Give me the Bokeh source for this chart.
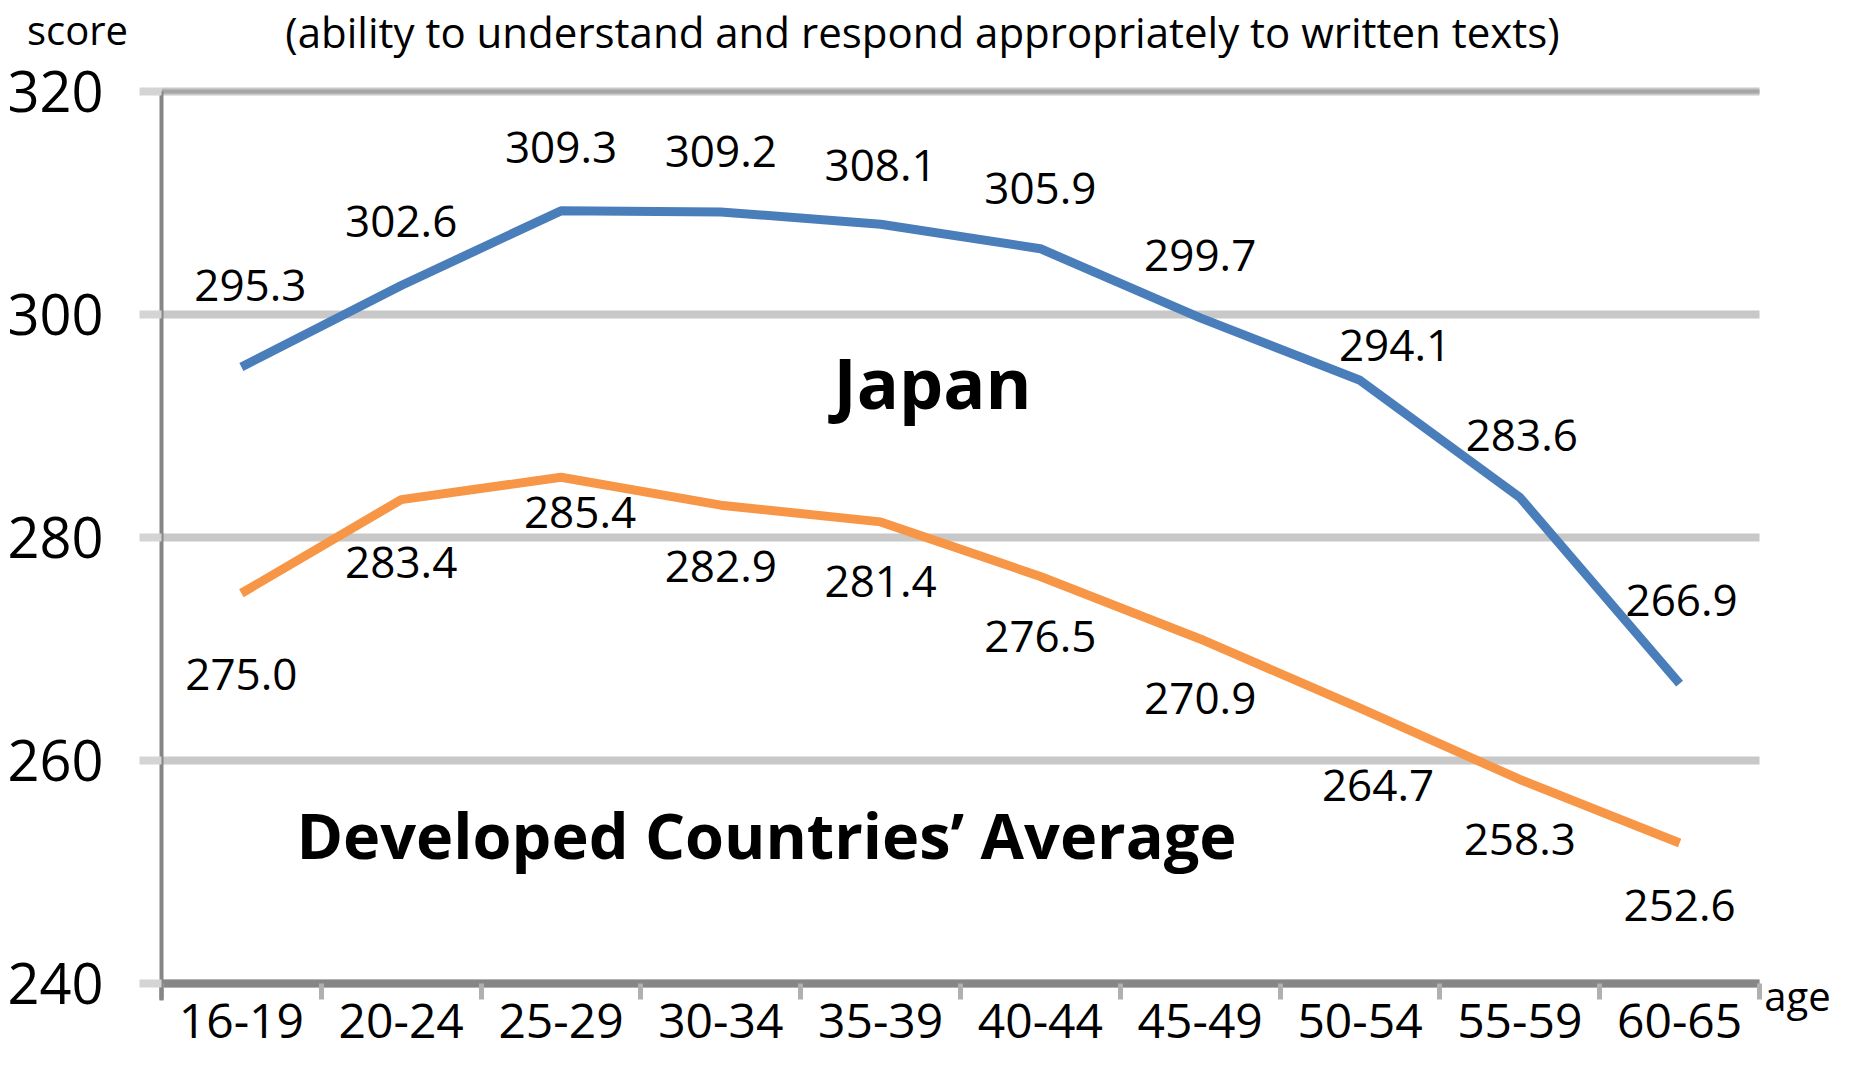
from bokeh.plotting import figure
from bokeh.models import (Range1d, LinearAxis, FixedTicker, CustomJSTickFormatter,
                          ColumnDataSource, Label, Grid)
from bokeh.core.properties import value
from bokeh.embed import file_html
from bokeh.resources import INLINE

# ---- data ----
ages = ["16-19", "20-24", "25-29", "30-34", "35-39", "40-44", "45-49", "50-54", "55-59", "60-65"]
japan = [295.3, 302.6, 309.3, 309.2, 308.1, 305.9, 299.7, 294.1, 283.6, 266.9]
average = [275.0, 283.4, 285.4, 282.9, 281.4, 276.5, 270.9, 264.7, 258.3, 252.6]
y_ticks = [240, 260, 280, 300, 320]

# ---- label placement (screen px offsets from each point; styling only) ----
japan_dx = [9, 0, 0, 0, 0, 0, 0, 35, 2, 2]
japan_dy = [-81, -64, -63, -60, -59, -60, -62, -35, -62, -83]
avg_dx = [0, 0, 19, 0, 0, 0, 0, 18, 0, 0]
avg_dy = [81, 63, 35, 61, 60, 60, 60, 77, 60, 62]

FONT = "Open Sans"
BLUE = "#4a7ebb"
ORANGE = "#f79646"

# ---- layout (pixels) ----
W, H = 1838, 1054
PL, PR, PT, PB = 161, 1759, 91, 983   # plot area edges on the canvas

n = len(ages)
centers = [i + 0.5 for i in range(n)]
bounds = list(range(n + 1))
ymin, ymax = y_ticks[0], y_ticks[-1]
XPU = (PR - PL) / n
YPU = (PB - PT) / (ymax - ymin)

def px_x(px):
    return (px - PL) / XPU

def px_y(py):
    return ymin + (PB - py) / YPU

p = figure(width=W, height=H, output_backend="svg", toolbar_location=None,
           x_range=Range1d(px_x(0), px_x(W)), y_range=Range1d(px_y(H), px_y(0)),
           x_axis_location=None, y_axis_location=None,
           min_border_left=0, min_border_right=0, min_border_top=0, min_border_bottom=0)
p.outline_line_color = None
p.background_fill_color = "white"
p.border_fill_color = "white"
p.grid.visible = False

# grid lines (plot area only)
grid = Grid(dimension=1, ticker=FixedTicker(ticks=y_ticks, minor_ticks=[]),
            grid_line_color="#c8c8c8", grid_line_width=8)
top = Grid(dimension=1, ticker=FixedTicker(ticks=[ymax], minor_ticks=[]),
           grid_line_color="#a6a6a6", grid_line_width=4)
has_cross = "cross_bounds" in Grid.properties()
for g in (grid, top):
    if has_cross:
        g.cross_bounds = (0, n)
    p.add_layout(g)
if not has_cross:
    p.segment(x0=[0] * len(y_ticks), x1=[n] * len(y_ticks), y0=y_ticks, y1=y_ticks,
              line_color="#c8c8c8", line_width=8)

# y axis
yaxis = LinearAxis(ticker=FixedTicker(ticks=y_ticks, minor_ticks=[]),
                   fixed_location=0, bounds=(ymin - 17 / YPU, ymax))
yaxis.axis_line_color = "#868686"
yaxis.axis_line_width = 4
yaxis.major_tick_out = 22
yaxis.major_tick_in = 0
yaxis.major_tick_line_color = "#d4d4d4"
yaxis.major_tick_line_width = 8
yaxis.minor_tick_line_color = None
yaxis.major_label_standoff = 36
yaxis.major_label_text_font = FONT
yaxis.major_label_text_font_size = "56px"
yaxis.major_label_text_color = "black"
p.add_layout(yaxis, "left")

# x axis: labels at category centres, tick marks at category boundaries
xaxis = LinearAxis(ticker=FixedTicker(ticks=centers, minor_ticks=bounds),
                   fixed_location=ymin, bounds=(0, n))
xaxis.formatter = CustomJSTickFormatter(args=dict(labels=ages),
                                        code="return labels[Math.floor(tick)]")
xaxis.axis_line_color = "#868686"
xaxis.axis_line_width = 8
xaxis.major_tick_line_color = None
xaxis.major_tick_out = 0
xaxis.major_tick_in = 0
xaxis.minor_tick_out = 16
xaxis.minor_tick_in = 0
xaxis.minor_tick_line_color = "#b0b0b0"
xaxis.minor_tick_line_width = 5
xaxis.major_label_standoff = 4
xaxis.major_label_text_font = FONT
xaxis.major_label_text_font_size = "48px"
xaxis.major_label_text_color = "black"
p.add_layout(xaxis, "below")

# lines
src_j = ColumnDataSource(dict(x=centers, y=japan, t=[f"{v:.1f}" for v in japan], dx=japan_dx, dy=japan_dy))
src_a = ColumnDataSource(dict(x=centers, y=average, t=[f"{v:.1f}" for v in average], dx=avg_dx, dy=avg_dy))
p.line("x", "y", source=src_j, line_color=BLUE, line_width=9, line_join="round")
p.line("x", "y", source=src_a, line_color=ORANGE, line_width=9, line_join="round")

for src in (src_j, src_a):
    p.text("x", "y", text="t", x_offset="dx", y_offset="dy", source=src,
           text_font=value(FONT), text_font_size="44px", text_color="black",
           text_align="center", text_baseline="middle")

def lab(text, cx, cy, size, bold=False):
    p.add_layout(Label(x=px_x(cx), y=px_y(cy), text=text, text_font=FONT,
                       text_font_size=f"{size}px",
                       text_font_style="bold" if bold else "normal", text_color="black",
                       text_align="center", text_baseline="middle"))

lab("Japan", 932, 381, 70, bold=True)
lab("Developed Countries\u2019 Average", 766, 834, 63, bold=True)
lab("score", 77, 29, 40)
lab("age", 1797, 995, 40)
lab("(ability to understand and respond appropriately to written texts)", 922, 31, 42)

open("out.html", "w").write(file_html(p, INLINE))
